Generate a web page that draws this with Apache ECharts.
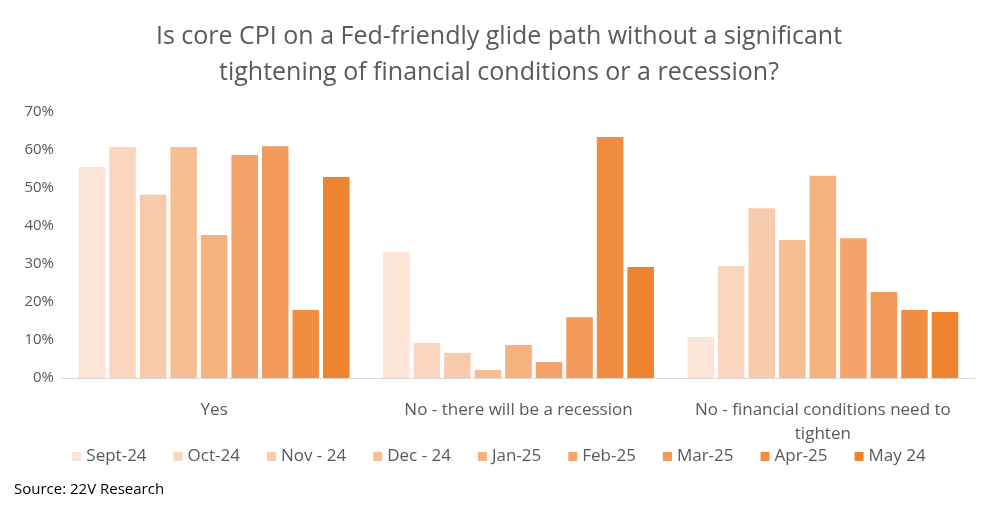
<!DOCTYPE html>
<html>
<head>
<meta charset="utf-8">
<script src="https://cdn.jsdelivr.net/npm/echarts@6/dist/echarts.min.js"></script>
<style>html,body{margin:0;background:#fff}#chart{width:998px;height:510px}</style>
</head>
<body>
<div id="chart"></div>
<script>
const categories = ['Yes', 'No - there will be a recession', 'No - financial conditions need to\ntighten'];
const seriesNames = ['Sept-24', 'Oct-24', 'Nov - 24', 'Dec - 24', 'Jan-25', 'Feb-25', 'Mar-25', 'Apr-25', 'May 24'];
const seriesValues = [
  [55.5, 33.2, 10.8],
  [60.8, 9.2, 29.5],
  [48.2, 6.6, 44.7],
  [60.8, 2.1, 36.3],
  [37.6, 8.7, 53.2],
  [58.7, 4.2, 36.8],
  [61.0, 16.0, 22.6],
  [17.9, 63.4, 17.9],
  [52.9, 29.2, 17.4]
];
const colors = ['#FCE4D6', '#F9D6BD', '#F8CBAD', '#F7BE93', '#F5B17E', '#F4A46B', '#F29A5A', '#F18D41', '#F0832D'];

const font = 'Open Sans, sans-serif';
const chart = echarts.init(document.getElementById('chart'));
chart.setOption({
  animation: false,
  color: colors,
  textStyle: { fontFamily: font, color: '#595959' },
  title: {
    text: 'Is core CPI on a Fed-friendly glide path without a significant\ntightening of financial conditions or a recession?',
    left: 'center', top: 14,
    textStyle: { fontFamily: font, fontSize: 25, fontWeight: 'normal', color: '#595959', lineHeight: 36 }
  },
  legend: {
    bottom: 40, left: 'center', itemWidth: 9, itemHeight: 9, itemGap: 27, icon: 'rect',
    textStyle: { fontFamily: font, fontSize: 17, color: '#595959' }
  },
  graphic: [{ type: 'text', left: 14, top: 482, style: { text: 'Source: 22V Research', font: '15px ' + font, fill: '#000' } }],
  grid: { left: 62, right: 23, top: 112, bottom: 132 },
  xAxis: {
    type: 'category', data: categories,
    axisTick: { show: false },
    axisLine: { lineStyle: { color: '#D9D9D9' } },
    axisLabel: { interval: 0, fontSize: 17, color: '#595959', margin: 20, lineHeight: 24 }
  },
  yAxis: {
    type: 'value', min: 0, max: 70, interval: 10,
    splitLine: { show: false },
    axisLabel: { formatter: '{value}%', fontSize: 15, color: '#595959' }
  },
  series: seriesNames.map((name, i) => ({
    name, type: 'bar', data: seriesValues[i], barGap: '15%', barCategoryGap: '11%'
  }))
});
</script>
</body>
</html>
